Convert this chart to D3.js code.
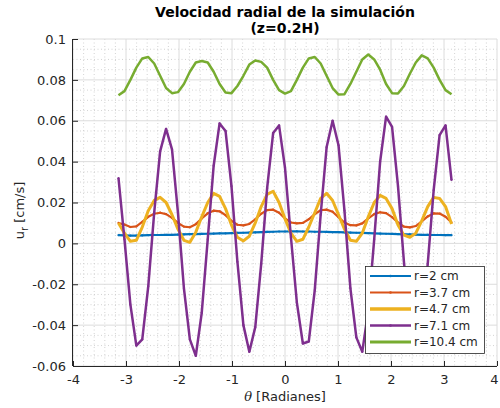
<!DOCTYPE html>
<html>
<head>
<meta charset="utf-8">
<script src="https://cdn.jsdelivr.net/npm/d3@7"></script>
<style>
  html, body { margin: 0; padding: 0; background: #fff; }
  svg { display: block; font-family: "DejaVu Sans", sans-serif; }
</style>
</head>
<body>
<svg id="chart" width="500" height="408"></svg>
<script>
const theta = [-3.142,-3.029,-2.917,-2.805,-2.693,-2.580,-2.468,-2.356,-2.244,-2.132,-2.020,-1.907,-1.795,-1.683,-1.571,-1.458,-1.346,-1.234,-1.122,-1.010,-0.898,-0.785,-0.673,-0.561,-0.449,-0.337,-0.224,-0.112,0,
  0.112,0.224,0.337,0.449,0.561,0.673,0.785,0.898,1.010,1.122,1.234,1.346,1.458,1.571,1.683,1.795,1.907,2.020,2.132,2.244,2.356,2.468,2.580,2.693,2.805,2.917,3.029,3.142];

const r2 = [0.0040,0.0039,0.0038,0.0038,0.0039,0.0040,0.0041,0.0041,0.0042,0.0042,0.0043,0.0044,0.0045,0.0045,0.0046,0.0047,0.0048,0.0049,0.0049,0.0050,0.0051,0.0052,0.0053,0.0054,0.0055,0.0056,0.0057,0.0058,0.0058,
  0.0059,0.0059,0.0058,0.0058,0.0057,0.0057,0.0056,0.0055,0.0055,0.0054,0.0053,0.0052,0.0051,0.0050,0.0049,0.0048,0.0047,0.0046,0.0045,0.0044,0.0044,0.0043,0.0042,0.0042,0.0041,0.0041,0.0040,0.0040];

const r37 = [0.0100,0.0092,0.0080,0.0083,0.0105,0.0130,0.0145,0.0150,0.0143,0.0125,0.0100,0.0082,0.0079,0.0094,0.0122,0.0147,0.0160,0.0157,0.0138,0.0110,0.0091,0.0088,0.0095,0.0118,0.0145,0.0163,0.0165,0.0150,0.0122,
  0.0102,0.0098,0.0100,0.0118,0.0143,0.0162,0.0165,0.0155,0.0128,0.0102,0.0089,0.0088,0.0098,0.0122,0.0143,0.0152,0.0148,0.0128,0.0102,0.0082,0.0078,0.0085,0.0108,0.0132,0.0147,0.0146,0.0130,0.0102];

const r47 = [0.010,0.005,0.001,0.0015,0.008,0.016,0.021,0.0225,0.020,0.014,0.007,0.0015,0.0005,0.0055,0.013,0.020,0.0245,0.023,0.017,0.009,0.003,0.0012,0.0035,0.010,0.018,0.024,0.0255,0.020,0.012,
  0.005,0.001,0.002,0.008,0.015,0.022,0.0245,0.021,0.014,0.007,0.0015,0.001,0.005,0.013,0.020,0.0235,0.022,0.017,0.009,0.004,0.003,0.005,0.011,0.018,0.0225,0.022,0.018,0.0095];

const r71 = [0.032,0.002,-0.030,-0.050,-0.047,-0.021,0.015,0.045,0.056,0.046,0.015,-0.022,-0.047,-0.055,-0.034,0.002,0.038,0.0587,0.055,0.028,-0.009,-0.040,-0.053,-0.041,-0.010,0.027,0.054,0.0577,0.037,
  0.003,-0.029,-0.049,-0.048,-0.023,0.014,0.047,0.060,0.048,0.016,-0.022,-0.046,-0.053,-0.033,0.002,0.040,0.062,0.057,0.028,-0.009,-0.041,-0.052,-0.042,-0.010,0.026,0.053,0.0577,0.031];

const r104 = [0.0725,0.0745,0.080,0.086,0.0905,0.0912,0.088,0.082,0.076,0.0735,0.074,0.078,0.084,0.0885,0.0892,0.0885,0.084,0.078,0.0738,0.0735,0.077,0.082,0.0875,0.0895,0.0888,0.086,0.080,0.075,0.0733,
  0.0745,0.080,0.086,0.0905,0.0912,0.088,0.082,0.076,0.0728,0.073,0.078,0.084,0.090,0.0924,0.090,0.085,0.078,0.0735,0.0733,0.077,0.083,0.0885,0.092,0.0905,0.086,0.080,0.075,0.073];

const seriesNames = ["r=2 cm", "r=3.7 cm", "r=4.7 cm", "r=7.1 cm", "r=10.4 cm"];
const seriesValues = [r2, r37, r47, r71, r104];
const seriesColors = ["#0072BD", "#D95319", "#EDB120", "#7E2F8E", "#77AC30"];
const seriesWidths = [2.2, 2.2, 3, 2.5, 2.5];
const seriesDots = [true, true, false, true, false];

const xTicks = [-4, -3, -2, -1, 0, 1, 2, 3, 4];
const yTicks = [-0.06, -0.04, -0.02, 0, 0.02, 0.04, 0.06, 0.08, 0.1];
const titleLines = ["Velocidad radial de la simulación", "(z=0.2H)"];

const svg = d3.select("#chart");
const L = 73, R = 497, T = 39, B = 366;
const x = d3.scaleLinear().domain([-4, 4]).range([L, R]);
const y = d3.scaleLinear().domain([-0.06, 0.1]).range([B, T]);
const axisColor = "#262626";

// minor grid
const g = svg.append("g");
const xMinor = d3.range(-40, 41, 2).map(v => v / 10).filter(v => !xTicks.includes(v));
const yMinor = d3.range(-60, 101, 5).map(v => v / 1000).filter(v => !yTicks.some(t => Math.abs(t - v) < 1e-9));
g.selectAll(".xm").data(xMinor).join("line")
  .attr("x1", d => x(d)).attr("x2", d => x(d)).attr("y1", T).attr("y2", B)
  .attr("stroke", "#c8c8c8").attr("stroke-width", 0.8).attr("stroke-dasharray", "1,2.5");
g.selectAll(".ym").data(yMinor).join("line")
  .attr("x1", L).attr("x2", R).attr("y1", d => y(d)).attr("y2", d => y(d))
  .attr("stroke", "#c8c8c8").attr("stroke-width", 0.8).attr("stroke-dasharray", "1,2.5");
// major grid
g.selectAll(".xg").data(xTicks).join("line")
  .attr("x1", d => x(d)).attr("x2", d => x(d)).attr("y1", T).attr("y2", B)
  .attr("stroke", "#dcdcdc").attr("stroke-width", 1);
g.selectAll(".yg").data(yTicks).join("line")
  .attr("x1", L).attr("x2", R).attr("y1", d => y(d)).attr("y2", d => y(d))
  .attr("stroke", "#dcdcdc").attr("stroke-width", 1);

// series
const line = d3.line().x((d, i) => x(theta[i])).y(d => y(d));
seriesValues.forEach((vals, k) => {
  svg.append("path").datum(vals)
    .attr("d", line)
    .attr("fill", "none")
    .attr("stroke", seriesColors[k])
    .attr("stroke-width", seriesWidths[k])
    .attr("stroke-linejoin", "round");
  if (seriesDots[k]) {
    svg.append("g").selectAll("circle").data(vals).join("circle")
      .attr("cx", (d, i) => x(theta[i])).attr("cy", d => y(d)).attr("r", 1.1)
      .attr("fill", seriesColors[k]);
  }
});

// axes
const xAxis = d3.axisBottom(x).tickValues(xTicks).tickFormat(d => String(d))
  .tickSizeInner(-5).tickSizeOuter(0).tickPadding(9);
const yAxis = d3.axisLeft(y).tickValues(yTicks).tickFormat(d => d === 0 ? "0" : String(+d.toFixed(2)))
  .tickSizeInner(-5).tickSizeOuter(0).tickPadding(7);
const gx = svg.append("g").attr("transform", `translate(0,${B})`).call(xAxis);
const gy = svg.append("g").attr("transform", `translate(${L},0)`).call(yAxis);
[gx, gy].forEach(a => {
  a.select(".domain").attr("stroke", axisColor).attr("stroke-width", 1);
  a.selectAll(".tick line").attr("stroke", axisColor);
  a.selectAll(".tick text").attr("fill", axisColor).attr("font-size", 13)
    .attr("font-family", "DejaVu Sans, sans-serif");
});
gx.selectAll(".tick text").filter(d => d === 4).attr("dx", -3);
gx.select(".domain").attr("d", `M${L},0.5H${R}`);
gy.select(".domain").attr("d", `M-0.5,${T}V${B}`);

// title
svg.append("g").selectAll("text").data(titleLines).join("text")
  .attr("x", (L + R) / 2).attr("y", (d, i) => 17 + i * 16)
  .attr("text-anchor", "middle").attr("font-weight", "bold").attr("font-size", 14)
  .attr("fill", "#000").text(d => d);

// x label
const xl = svg.append("text").attr("x", (L + R) / 2).attr("y", 401)
  .attr("text-anchor", "middle").attr("font-size", 13).attr("fill", axisColor);
xl.append("tspan").attr("font-style", "italic").attr("font-family", "DejaVu Serif, serif").text("θ");
xl.append("tspan").text(" [Radianes]");

// y label
const yl = svg.append("text").attr("transform", `translate(24,${(T + B) / 2 + 8}) rotate(-90)`)
  .attr("text-anchor", "middle").attr("font-size", 13).attr("fill", axisColor);
yl.append("tspan").text("u");
yl.append("tspan").attr("font-size", 10).attr("dy", 4).text("r");
yl.append("tspan").attr("dy", -4).text(" [cm/s]");

// legend
const lg = svg.append("g");
lg.append("rect").attr("x", 365.5).attr("y", 266.5).attr("width", 119).attr("height", 87)
  .attr("fill", "#fff").attr("stroke", axisColor).attr("stroke-width", 0.8);
const rows = lg.selectAll(".row").data(seriesNames).join("g")
  .attr("transform", (d, i) => `translate(0,${276 + i * 16.5})`);
rows.append("line").attr("x1", 370).attr("x2", 411).attr("y1", 0).attr("y2", 0)
  .attr("stroke", (d, i) => seriesColors[i]).attr("stroke-width", (d, i) => seriesWidths[i] + (i === 2 || i === 4 ? 0.5 : 0));
rows.filter((d, i) => seriesDots[i]).append("circle").attr("cx", 390.5).attr("cy", 0).attr("r", 1.3)
  .attr("fill", (d) => seriesColors[seriesNames.indexOf(d)]);
rows.append("text").attr("x", 414).attr("y", 0).attr("dy", "0.35em")
  .attr("font-size", 12).attr("fill", axisColor).text(d => d);
</script>
</body>
</html>
